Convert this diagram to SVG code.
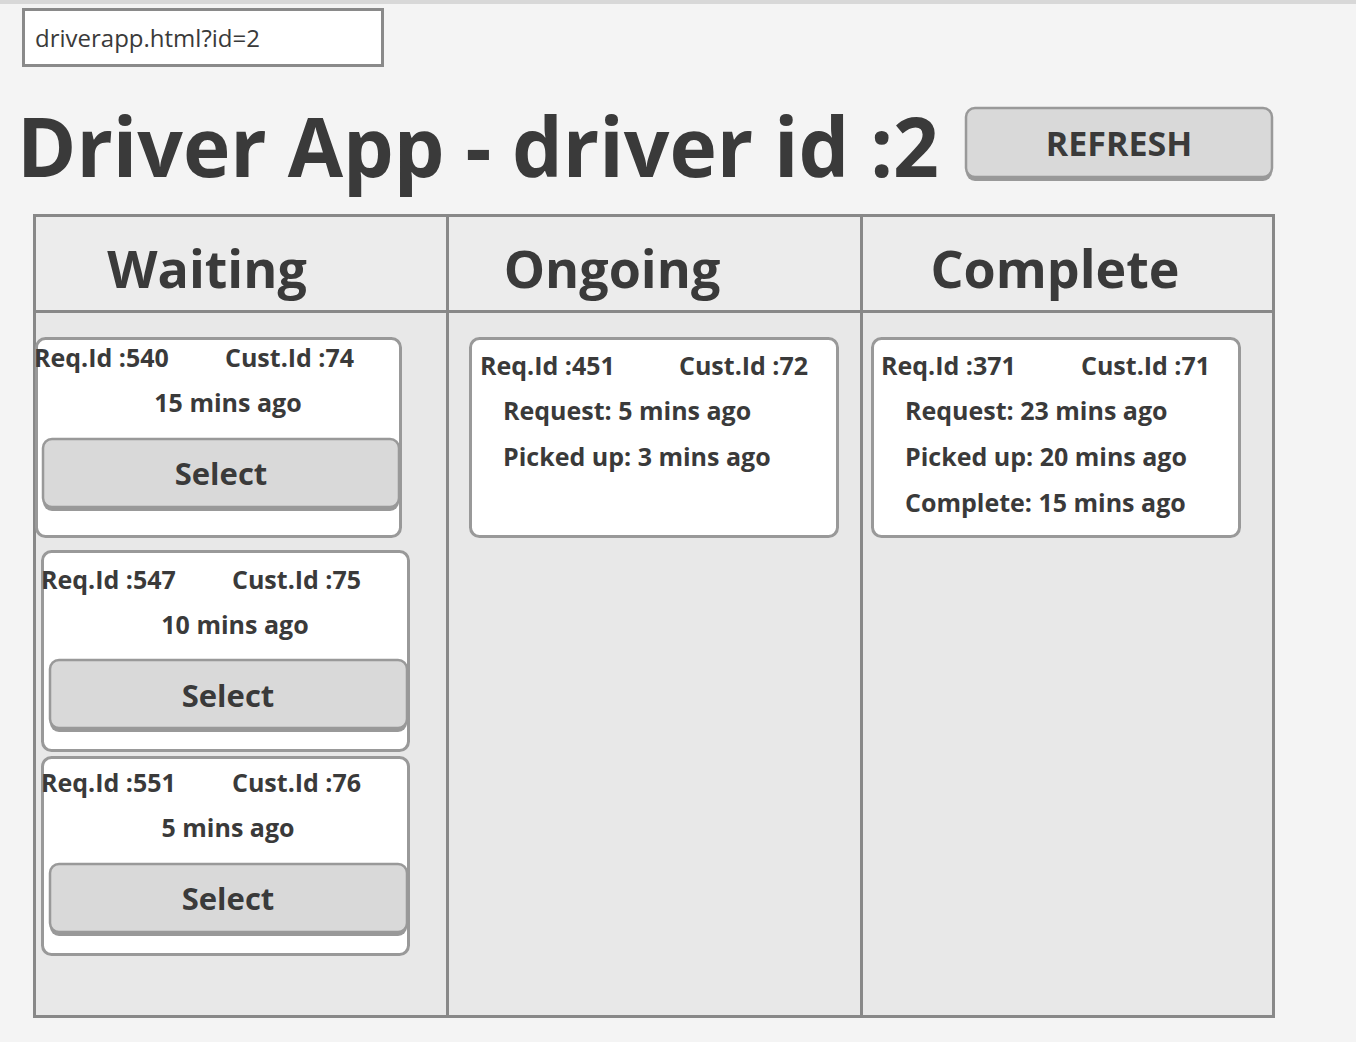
<svg xmlns="http://www.w3.org/2000/svg" width="1356" height="1042" viewBox="0 0 1356 1042">
<defs>
<style>
text{font-family:"Open Sans","Noto Sans","Liberation Sans",sans-serif;fill:#3a3a3a;font-weight:700}
.card{fill:#ffffff;stroke:#999999;stroke-width:3}
.btn{fill:#d9d9d9;stroke:#999999;stroke-width:2.5}
.btnsh{fill:#999999}
.sm{font-size:25px}
.sel{font-size:31px;text-anchor:middle}
.hd{font-size:52px;text-anchor:middle}
</style>
</defs>
<rect x="0" y="0" width="1356" height="1042" fill="#f4f4f4"/>
<rect x="0" y="0" width="1356" height="4" fill="#d8d8d8"/>
<g id="url">
<rect x="23.5" y="9.5" width="359" height="56" fill="#ffffff" stroke="#8a8a8a" stroke-width="3"/>
<text x="35" y="47" style="font-size:24px;font-weight:500">driverapp.html?id=2</text>
</g>
<g id="title">
<text x="17" y="177" style="font-size:83px" textLength="922" lengthAdjust="spacingAndGlyphs">Driver App - driver id :2</text>
</g>
<g id="refresh">
<rect x="966" y="112" width="306" height="69" rx="9" class="btnsh"/>
<rect x="966" y="108" width="306" height="69" rx="9" class="btn"/>
<text x="1119" y="156" style="font-size:34px;text-anchor:middle">REFRESH</text>
</g>
<g id="board">
<rect x="34.5" y="215.5" width="1239" height="801" fill="#e8e8e8" stroke="#888888" stroke-width="3"/>
<rect x="36" y="217" width="1236" height="94" fill="#ececec"/>
<line x1="34" y1="311.5" x2="1274" y2="311.5" stroke="#888888" stroke-width="3"/>
<line x1="447.5" y1="215" x2="447.5" y2="1017" stroke="#888888" stroke-width="3"/>
<line x1="861.5" y1="215" x2="861.5" y2="1017" stroke="#888888" stroke-width="3"/>
<text x="207" y="288" class="hd">Waiting</text>
<text x="612" y="288" class="hd">Ongoing</text>
<text x="1055" y="288" class="hd">Complete</text>
</g>
<g id="w540">
<rect x="36.5" y="338.5" width="364" height="198" rx="9" class="card"/>
<text x="34" y="367" class="sm">Req.Id :540</text>
<text x="225" y="367" class="sm">Cust.Id :74</text>
<text x="228" y="412" class="sm" text-anchor="middle">15 mins ago</text>
<rect x="43" y="443" width="356" height="68" rx="9" class="btnsh"/>
<rect x="43" y="439" width="356" height="68" rx="9" class="btn"/>
<text x="221" y="485" class="sel">Select</text>
</g>
<g id="w547">
<rect x="42.5" y="551.5" width="366" height="199" rx="9" class="card"/>
<text x="41" y="589" class="sm">Req.Id :547</text>
<text x="232" y="589" class="sm">Cust.Id :75</text>
<text x="235" y="634" class="sm" text-anchor="middle">10 mins ago</text>
<rect x="50" y="664" width="357" height="68" rx="9" class="btnsh"/>
<rect x="50" y="660" width="357" height="68" rx="9" class="btn"/>
<text x="228" y="707" class="sel">Select</text>
</g>
<g id="w551">
<rect x="42.5" y="757.5" width="366" height="197" rx="9" class="card"/>
<text x="41" y="792" class="sm">Req.Id :551</text>
<text x="232" y="792" class="sm">Cust.Id :76</text>
<text x="228" y="837" class="sm" text-anchor="middle">5 mins ago</text>
<rect x="50" y="868" width="357" height="68" rx="9" class="btnsh"/>
<rect x="50" y="864" width="357" height="68" rx="9" class="btn"/>
<text x="228" y="910" class="sel">Select</text>
</g>
<g id="o451">
<rect x="470.5" y="338.5" width="367" height="198" rx="9" class="card"/>
<text x="480" y="375" class="sm">Req.Id :451</text>
<text x="679" y="375" class="sm">Cust.Id :72</text>
<text x="503" y="420" class="sm">Request: 5 mins ago</text>
<text x="503" y="466" class="sm">Picked up: 3 mins ago</text>
</g>
<g id="c371">
<rect x="872.5" y="338.5" width="367" height="198" rx="9" class="card"/>
<text x="881" y="375" class="sm">Req.Id :371</text>
<text x="1081" y="375" class="sm">Cust.Id :71</text>
<text x="905" y="420" class="sm">Request: 23 mins ago</text>
<text x="905" y="466" class="sm">Picked up: 20 mins ago</text>
<text x="905" y="512" class="sm">Complete: 15 mins ago</text>
</g>
<g id="connectors"/>
</svg>
